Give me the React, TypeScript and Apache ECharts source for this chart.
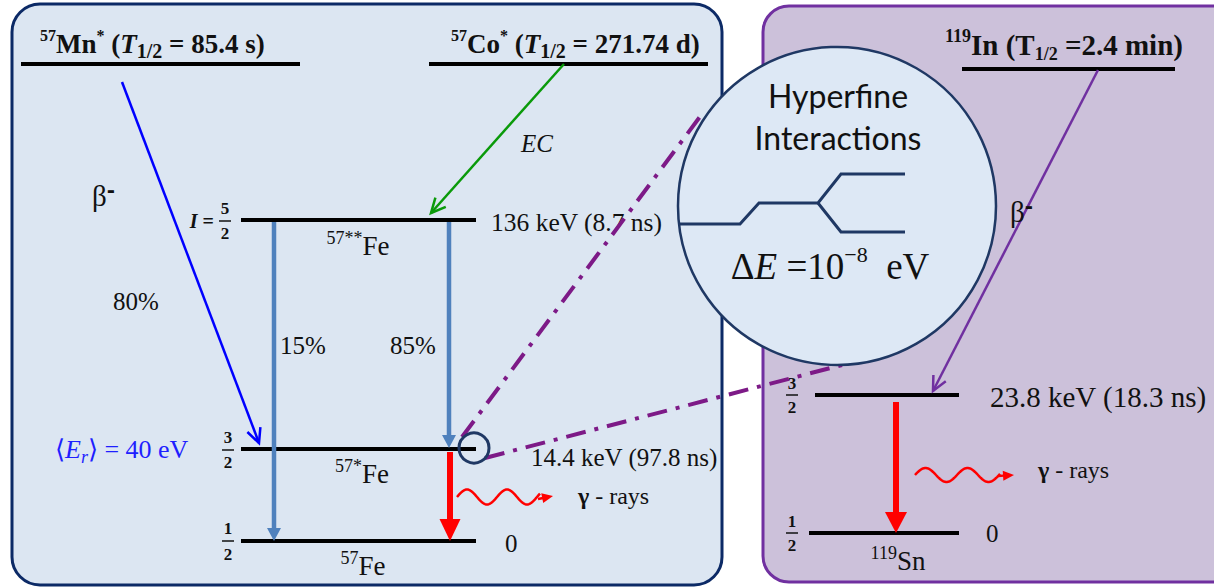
import React, { useEffect, useRef } from "react";
import * as echarts from "echarts";

const W = 1214;
const H = 587;
const SERIF = "Liberation Serif";
const SANS = "Lato";

// ---- content ----
const parentIsotopes = ["57", "57", "119"];
const parentElements = ["Mn", "Co", "In"];
const parentHalfLives = ["85.4 s", "271.74 d", "2.4 min"];
const decayModes = ["β", "EC", "β"];
const fe57Spins = [["5", "2"], ["3", "2"], ["1", "2"]];
const fe57Energies = ["136 keV (8.7 ns)", "14.4 keV (97.8 ns)", "0"];
const fe57Names = ["57**", "57*", "57"];
const fe57Branches = ["15%", "85%"];
const mnBranch = "80%";
const recoil = "40 eV";
const sn119Spins = [["3", "2"], ["1", "2"]];
const sn119Energies = ["23.8 keV (18.3 ns)", "0"];
const sn119Name = "119";
const hyperfineTitle = ["Hyperfine", "Interactions"];
const hyperfineSplit = "−8";

// ---- helpers ----
function line(x1: number, y1: number, x2: number, y2: number, stroke: string, lw: number, extra: any = {}) {
  return { type: "line", shape: { x1, y1, x2, y2 }, style: { stroke, lineWidth: lw, ...extra } };
}
function filledArrow(x1: number, y1: number, x2: number, y2: number, color: string, lw: number, hl: number, hw: number) {
  const dx = x2 - x1, dy = y2 - y1, L = Math.hypot(dx, dy), ux = dx / L, uy = dy / L;
  const bx = x2 - ux * hl, by = y2 - uy * hl;
  return [
    line(x1, y1, bx + ux, by + uy, color, lw),
    {
      type: "polygon",
      shape: { points: [[x2, y2], [bx - (uy * hw) / 2, by + (ux * hw) / 2], [bx + (uy * hw) / 2, by - (ux * hw) / 2]] },
      style: { fill: color },
    },
  ];
}
function openArrow(x1: number, y1: number, x2: number, y2: number, color: string, lw: number, hl: number, ang: number) {
  const a = Math.atan2(y2 - y1, x2 - x1);
  const p1 = [x2 - hl * Math.cos(a - ang), y2 - hl * Math.sin(a - ang)];
  const p2 = [x2 - hl * Math.cos(a + ang), y2 - hl * Math.sin(a + ang)];
  return [
    line(x1, y1, x2, y2, color, lw),
    { type: "polyline", shape: { points: [p1, [x2, y2], p2] }, style: { stroke: color, lineWidth: lw, fill: "none", lineJoin: "miter" } },
  ];
}
function text(x: number, y: number, t: string, o: any = {}) {
  const align = o.align || "left";
  const va = o.va || "middle";
  return {
    type: "text",
    x,
    y,
    style: {
      text: t,
      fill: o.fill || "#111",
      fontFamily: o.family || SERIF,
      fontSize: o.size || 24,
      fontWeight: o.weight || "normal",
      fontStyle: o.style || "normal",
      align,
      textAlign: align,
      verticalAlign: va,
      textVerticalAlign: va,
      rich: o.rich,
    },
  };
}
function frac(cx: number, cy: number, nd: string[], off = 12.5, size = 17) {
  return [
    text(cx, cy - off, nd[0], { size, weight: "bold", align: "center" }),
    line(cx - 6, cy, cx + 6, cy, "#111", 1.5),
    text(cx, cy + off, nd[1], { size, weight: "bold", align: "center" }),
  ];
}
function wave(x0: number, x1: number, yc: number, amp: number, period: number) {
  const pts: number[][] = [];
  for (let x = x0; x <= x1; x += 1) pts.push([x, yc - amp * Math.sin((2 * Math.PI * (x - x0)) / period)]);
  return pts;
}
function richSet(size: number, weight = "normal", color = "#111", supK = 0.6, subK = 0.68) {
  const lh = Math.round(size * 1.25);
  return {
    b: { fontFamily: SERIF, fontSize: size, fontWeight: weight, fill: color, color, lineHeight: lh, verticalAlign: "middle" },
    bi: { fontFamily: SERIF, fontSize: size, fontWeight: weight, fontStyle: "italic", fill: color, color, lineHeight: lh, verticalAlign: "middle" },
    sup: { fontFamily: SERIF, fontSize: Math.round(size * supK), fontWeight: weight, fill: color, color, lineHeight: Math.round(size * 0.62), verticalAlign: "top" },
    sub: { fontFamily: SERIF, fontSize: Math.round(size * subK), fontWeight: weight, fill: color, color, lineHeight: Math.round(size * 0.6), verticalAlign: "bottom" },
    subi: { fontFamily: SERIF, fontSize: Math.round(size * subK), fontWeight: weight, fontStyle: "italic", fill: color, color, lineHeight: Math.round(size * 0.6), verticalAlign: "bottom" },
  };
}
function betaRich() {
  return {
    b: { fontFamily: SERIF, fontSize: 29, fill: "#111", lineHeight: 32, verticalAlign: "middle" },
    sup: { fontFamily: "DejaVu Sans", fontSize: 20, fontWeight: "bold", fill: "#111", lineHeight: 18, verticalAlign: "top" },
  };
}
function gammaRich() {
  return {
    b: { fontFamily: SERIF, fontSize: 24, fontWeight: "bold", fill: "#111" },
    r: { fontFamily: SERIF, fontSize: 24, fill: "#111" },
  };
}

const DASH = [20, 9, 4, 9];
const PURPLE_DD = "#7d1a87";
const NAVY = "#1f3864";
const STEEL = "#4f81bd";

function buildGraphics() {
  const els: any[] = [];
  // panels
  els.push({ type: "rect", shape: { x: 12, y: 4, width: 710, height: 581, r: 28 }, style: { fill: "#dce6f2", stroke: "#0c2a66", lineWidth: 3 } });
  els.push({ type: "rect", shape: { x: 763, y: 6, width: 480, height: 576, r: 26 }, style: { fill: "#ccc1da", stroke: "#7030a0", lineWidth: 3 } });

  // parent levels
  els.push(line(21, 64, 300, 64, "#000", 4));
  els.push(line(429, 64, 708, 64, "#000", 4));
  els.push(line(962, 69, 1175, 69, "#000", 4));
  const titleRich = richSet(27, "bold", "#111", 0.58, 0.74);
  els.push(text(40, 44, `{sup|${parentIsotopes[0]}}{b|${parentElements[0]}}{sup|*}{b| (}{bi|T}{sub|1/2}{b| = ${parentHalfLives[0]})}`, { rich: titleRich }));
  els.push(text(451, 44, `{sup|${parentIsotopes[1]}}{b|${parentElements[1]}}{sup|*}{b| (}{bi|T}{sub|1/2}{b| = ${parentHalfLives[1]})}`, { rich: titleRich }));
  const inRich = richSet(29, "bold", "#111", 0.62, 0.62);
  els.push(text(945, 45, `{sup|${parentIsotopes[2]}}{b|${parentElements[2]} (T}{sub|1/2}{b| =${parentHalfLives[2]})}`, { rich: inRich }));

  // 57Fe levels
  const feY = [220, 449, 541];
  feY.forEach((y) => els.push(line(241, y, 476, y, "#000", 4)));
  els.push(text(214, 221, "{bi|I}{b| =}", { align: "right", rich: richSet(20, "bold") }));
  els.push(...frac(225, 221, fe57Spins[0]));
  els.push(...frac(228, 450, fe57Spins[1]));
  els.push(...frac(228, 541, fe57Spins[2], 13));
  els.push(text(491, 222, fe57Energies[0], { size: 25.5 }));
  els.push(text(531, 457, fe57Energies[1], { size: 25 }));
  els.push(text(505, 543, fe57Energies[2], { size: 25 }));
  const nameRich = richSet(27, "normal", "#111", 0.66);
  els.push(text(358, 246, `{sup|${fe57Names[0]}}{b|Fe}`, { align: "center", rich: nameRich }));
  els.push(text(362, 474, `{sup|${fe57Names[1]}}{b|Fe}`, { align: "center", rich: nameRich }));
  els.push(text(363, 566, `{sup|${fe57Names[2]}}{b|Fe}`, { align: "center", rich: nameRich }));

  // 57Fe transitions
  els.push(...filledArrow(274, 222, 274, 541, STEEL, 4.5, 13, 14));
  els.push(...filledArrow(449, 222, 449, 448, STEEL, 4.5, 13, 14));
  els.push(text(280, 345, fe57Branches[0], { size: 25 }));
  els.push(text(390, 345, fe57Branches[1], { size: 25 }));
  els.push(...filledArrow(450, 452, 450, 541, "#ff0000", 6, 22, 21));
  const lw = wave(457, 540, 497, 7.5, 40);
  els.push({ type: "polyline", shape: { points: lw }, style: { stroke: "#ff0000", lineWidth: 2.5, fill: "none" } });
  els.push(...filledArrow(538, 499, 553, 496, "#ff0000", 2.5, 11, 10));
  els.push(text(578, 496, "{b|γ}{r| - rays}", { rich: gammaRich() }));

  // parent decays (left)
  els.push(...openArrow(122, 82, 259, 443, "#0000ff", 2.5, 16, 0.45));
  els.push(text(92, 196, `{b|${decayModes[0]}}{sup|-}`, { rich: betaRich() }));
  els.push(text(113, 301, mnBranch, { size: 25 }));
  els.push(...openArrow(564, 64, 431, 213, "#0a9a0a", 2.5, 16, 0.45));
  els.push(text(521, 143, decayModes[1], { size: 25, style: "italic" }));
  const erRich = richSet(26, "normal", "#1f1fff");
  els.push(text(55, 449, `{b|⟨}{bi|E}{subi|r}{b|⟩ = ${recoil}}`, { rich: erRich }));

  // 119Sn
  els.push(line(815, 395, 959, 395, "#000", 4));
  els.push(line(809, 533, 959, 533, "#000", 4));
  els.push(...frac(792, 533, sn119Spins[1], 12));
  els.push(text(990, 397, sn119Energies[0], { size: 29 }));
  els.push(text(986, 533, sn119Energies[1], { size: 25 }));
  els.push(text(898, 561, `{sup|${sn119Name}}{b|Sn}`, { align: "center", rich: nameRich }));
  els.push(...filledArrow(896, 402, 896, 533, "#ff0000", 6, 21, 22));
  const rw = wave(915, 1000, 475, 7, 42);
  els.push({ type: "polyline", shape: { points: rw }, style: { stroke: "#ff0000", lineWidth: 2.5, fill: "none" } });
  els.push(...filledArrow(998, 476, 1014, 475, "#ff0000", 2.5, 11, 10));
  els.push(text(1038, 470, "{b|γ}{r| - rays}", { rich: gammaRich() }));
  els.push(...openArrow(1098, 70, 933, 391, "#7030a0", 2.5, 16, 0.45));
  els.push(text(1010, 212, `{b|${decayModes[2]}}{sup|-}`, { rich: betaRich() }));
  els.push(...frac(792, 395, sn119Spins[0], 12));

  // small circle + dash-dot
  els.push(line(462, 437, 702, 114, PURPLE_DD, 4, { lineDash: DASH }));
  els.push(line(485, 458, 842, 365, PURPLE_DD, 4, { lineDash: DASH }));
  els.push({ type: "circle", shape: { cx: 474, cy: 448, r: 15 }, style: { fill: "none", stroke: NAVY, lineWidth: 3 } });

  // big circle
  els.push({ type: "circle", shape: { cx: 837, cy: 206, r: 159 }, style: { fill: "#dde8f5", stroke: NAVY, lineWidth: 2.5 } });
  els.push(text(838, 95, hyperfineTitle[0], { family: SANS, size: 32, align: "center" }));
  els.push(text(838, 137, hyperfineTitle[1], { family: SANS, size: 32, align: "center" }));
  els.push({ type: "polyline", shape: { points: [[679, 224], [740, 224], [759, 203], [818, 203], [841, 174], [905, 174]] }, style: { stroke: NAVY, lineWidth: 3, fill: "none" } });
  els.push({ type: "polyline", shape: { points: [[818, 203], [841, 232], [905, 232]] }, style: { stroke: NAVY, lineWidth: 3, fill: "none" } });
  els.push(text(830, 266, `{b|Δ}{bi|E}{b| =10}{sup|${hyperfineSplit}}{b|  eV}`, { align: "center", rich: richSet(37) }));
  return els;
}

export default function App() {
  const ref = useRef<HTMLDivElement>(null);
  useEffect(() => {
    document.body.style.margin = "0";
    if (!ref.current) return;
    const chart = echarts.init(ref.current, null, { renderer: "svg", width: W, height: H });
    chart.setOption({
      animation: false,
      backgroundColor: "#ffffff",
      graphic: { elements: buildGraphics() },
    });
    return () => chart.dispose();
  }, []);
  return <div ref={ref} style={{ width: W, height: H }} />;
}
